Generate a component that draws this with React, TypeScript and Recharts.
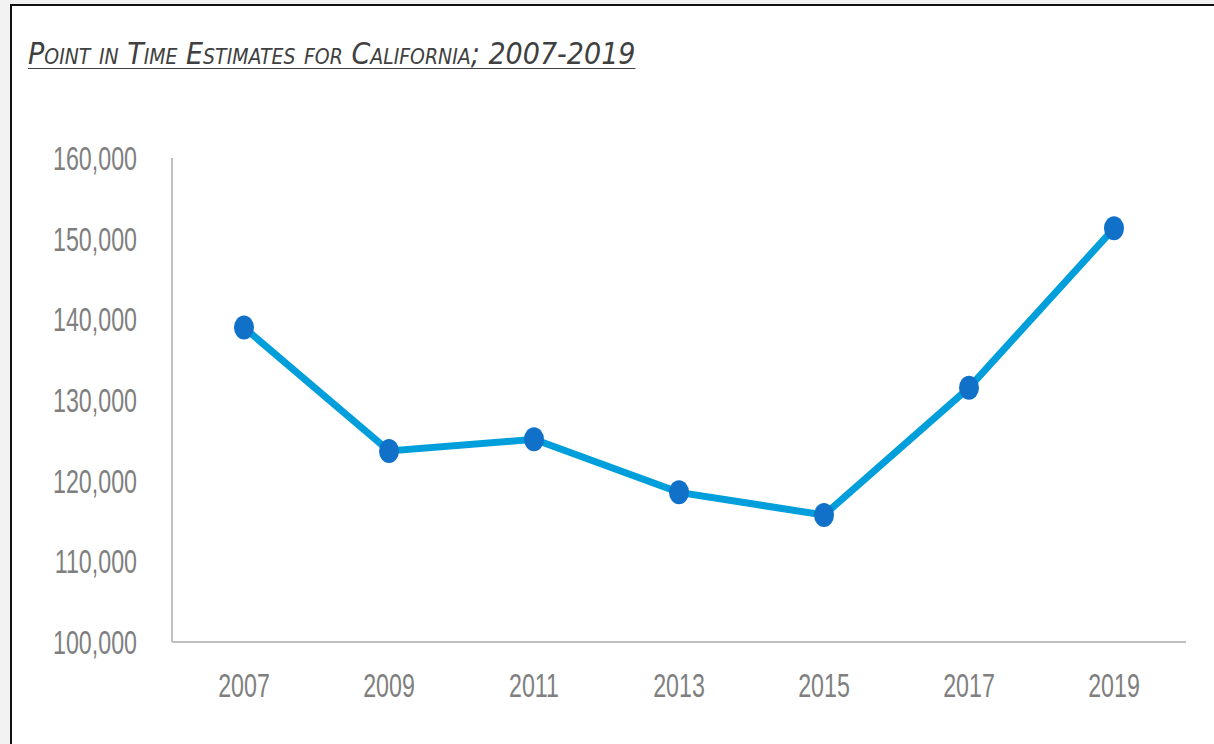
import { LineChart, Line, XAxis, YAxis } from 'recharts';

const years = ['2007', '2009', '2011', '2013', '2015', '2017', '2019'];
const estimates = [138986, 123678, 125128, 118552, 115738, 131532, 151278];
const yTicks = [100000, 110000, 120000, 130000, 140000, 150000, 160000];

const data = years.map((year, i) => ({ year, value: estimates[i] }));

const labelFont = '"Liberation Sans", Arial, sans-serif';
const titleFont = '"DejaVu Sans Condensed", "Liberation Sans", sans-serif';

function Marker(props: any) {
  const { cx, cy } = props;
  if (cx == null || cy == null) return null;
  return <ellipse cx={cx} cy={cy} rx={10} ry={12} fill="#1170c8" />;
}

// narrow, tall tick labels like the original
function NarrowTick(props: any) {
  const { x, y, payload, textAnchor, dy, tickFormatter } = props;
  const label = tickFormatter ? tickFormatter(payload.value) : payload.value;
  return (
    <text
      transform={`translate(${x},${y}) scale(0.83,1.2)`}
      textAnchor={textAnchor}
      dy={dy}
      fill="#7f7f7f"
      fontSize={28}
      fontFamily={labelFont}
    >
      {label}
    </text>
  );
}

export default function App() {
  return (
    <div style={{ position: 'fixed', inset: 0, background: '#f2f2f2', overflow: 'hidden' }}>
      <div
        style={{
          position: 'absolute',
          left: 10,
          top: 4,
          width: 1230,
          height: 760,
          background: '#fff',
          borderLeft: '2px solid #111',
          borderTop: '2px solid #111',
        }}
      />
      <div
        style={{
          position: 'absolute',
          left: 28,
          top: 36,
          fontFamily: titleFont,
          fontStyle: 'italic',
          fontVariant: 'small-caps',
          fontSize: 30,
          color: '#404040',
          textDecoration: 'underline',
          textDecorationThickness: 1,
          textUnderlineOffset: 4,
          whiteSpace: 'nowrap',
        }}
      >
        Point in Time Estimates for California; 2007-2019
      </div>
      <div style={{ position: 'absolute', left: 0, top: 0 }}>
        <LineChart width={1214} height={744} data={data} margin={{ top: 158, right: 28, bottom: 0, left: 0 }}>
          <XAxis
            dataKey="year"
            height={102}
            padding={{ left: 72, right: 72 }}
            tickLine={false}
            tickSize={0}
            tickMargin={31}
            axisLine={{ stroke: '#bfbfbf', strokeWidth: 2 }}
            tick={<NarrowTick dy="0.71em" />}
          />
          <YAxis
            width={172}
            domain={[100000, 160000]}
            ticks={yTicks}
            tickLine={false}
            tickSize={0}
            tickMargin={35}
            axisLine={{ stroke: '#bfbfbf', strokeWidth: 2 }}
            tickFormatter={(v: number) => v.toLocaleString('en-US')}
            tick={<NarrowTick dy="0.355em" />}
          />
          <Line
            type="linear"
            dataKey="value"
            stroke="#009fdb"
            strokeWidth={7}
            dot={<Marker />}
            activeDot={false}
            isAnimationActive={false}
          />
        </LineChart>
      </div>
    </div>
  );
}
